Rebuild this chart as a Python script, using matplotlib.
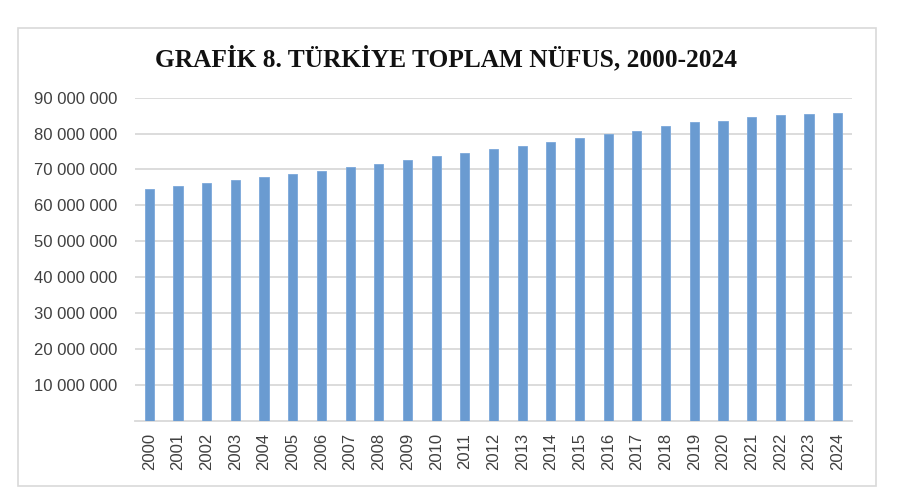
import matplotlib
matplotlib.use("Agg")
import matplotlib.pyplot as plt
from matplotlib.ticker import FuncFormatter
from matplotlib.patches import Rectangle

years = [str(y) for y in range(2000, 2025)]
population = [
    64.5e6, 65.4e6, 66.2e6, 67.1e6, 67.9e6, 68.8e6, 69.6e6, 70.59e6,
    71.52e6, 72.56e6, 73.72e6, 74.72e6, 75.63e6, 76.67e6, 77.70e6,
    78.74e6, 79.81e6, 80.81e6, 82.00e6, 83.15e6, 83.61e6, 84.68e6,
    85.28e6, 85.37e6, 85.66e6,
]
y_ticks = list(range(10_000_000, 90_000_001, 10_000_000))
title = "GRAFİK 8. TÜRKİYE TOPLAM NÜFUS, 2000-2024"

fig = plt.figure(figsize=(9, 5.03), dpi=100)

# dis cerceve
fig.patches.append(Rectangle((17.5 / 900, 1 - 486 / 503), (876 - 17.5) / 900, (486 - 27.5) / 503,
                             transform=fig.transFigure, fill=False,
                             edgecolor="#d9d9d9", linewidth=1.2))

ax = fig.add_axes([135 / 900, 1 - 420.5 / 503, (852 - 135) / 900, (420.5 - 97.7) / 503])
x = list(range(len(years)))
ax.bar(x, population, width=0.32, color="#6a9bd1", edgecolor="#7ba8da", linewidth=0.6, zorder=3)

ax.set_ylim(0, 90_000_000)
ax.set_xlim(-0.5, len(years) - 0.5)
ax.set_yticks(y_ticks)
ax.yaxis.set_major_formatter(FuncFormatter(lambda v, p: f"{int(v):,}".replace(",", " ")))
ax.set_xticks(x)
ax.set_xticklabels(years, rotation=90)

ax.grid(axis="y", color="#d9d9d9", linewidth=1.3, zorder=0)
for s in ["top", "left", "right"]:
    ax.spines[s].set_visible(False)
ax.spines["bottom"].set_color("#d9d9d9")
ax.spines["bottom"].set_linewidth(1.3)
ax.tick_params(axis="both", length=0, labelsize=12, labelcolor="#404040")
ax.tick_params(axis="y", pad=13)
ax.tick_params(axis="x", pad=9)
for lbl in ax.get_xticklabels() + ax.get_yticklabels():
    lbl.set_fontfamily("Liberation Sans")

fig.text(446 / 900, 1 - 58 / 503, title, ha="center", va="center",
         fontsize=18.3, fontweight="bold", family="Liberation Serif", color="#111111")

fig.savefig("out.png", dpi=100, facecolor="white")
